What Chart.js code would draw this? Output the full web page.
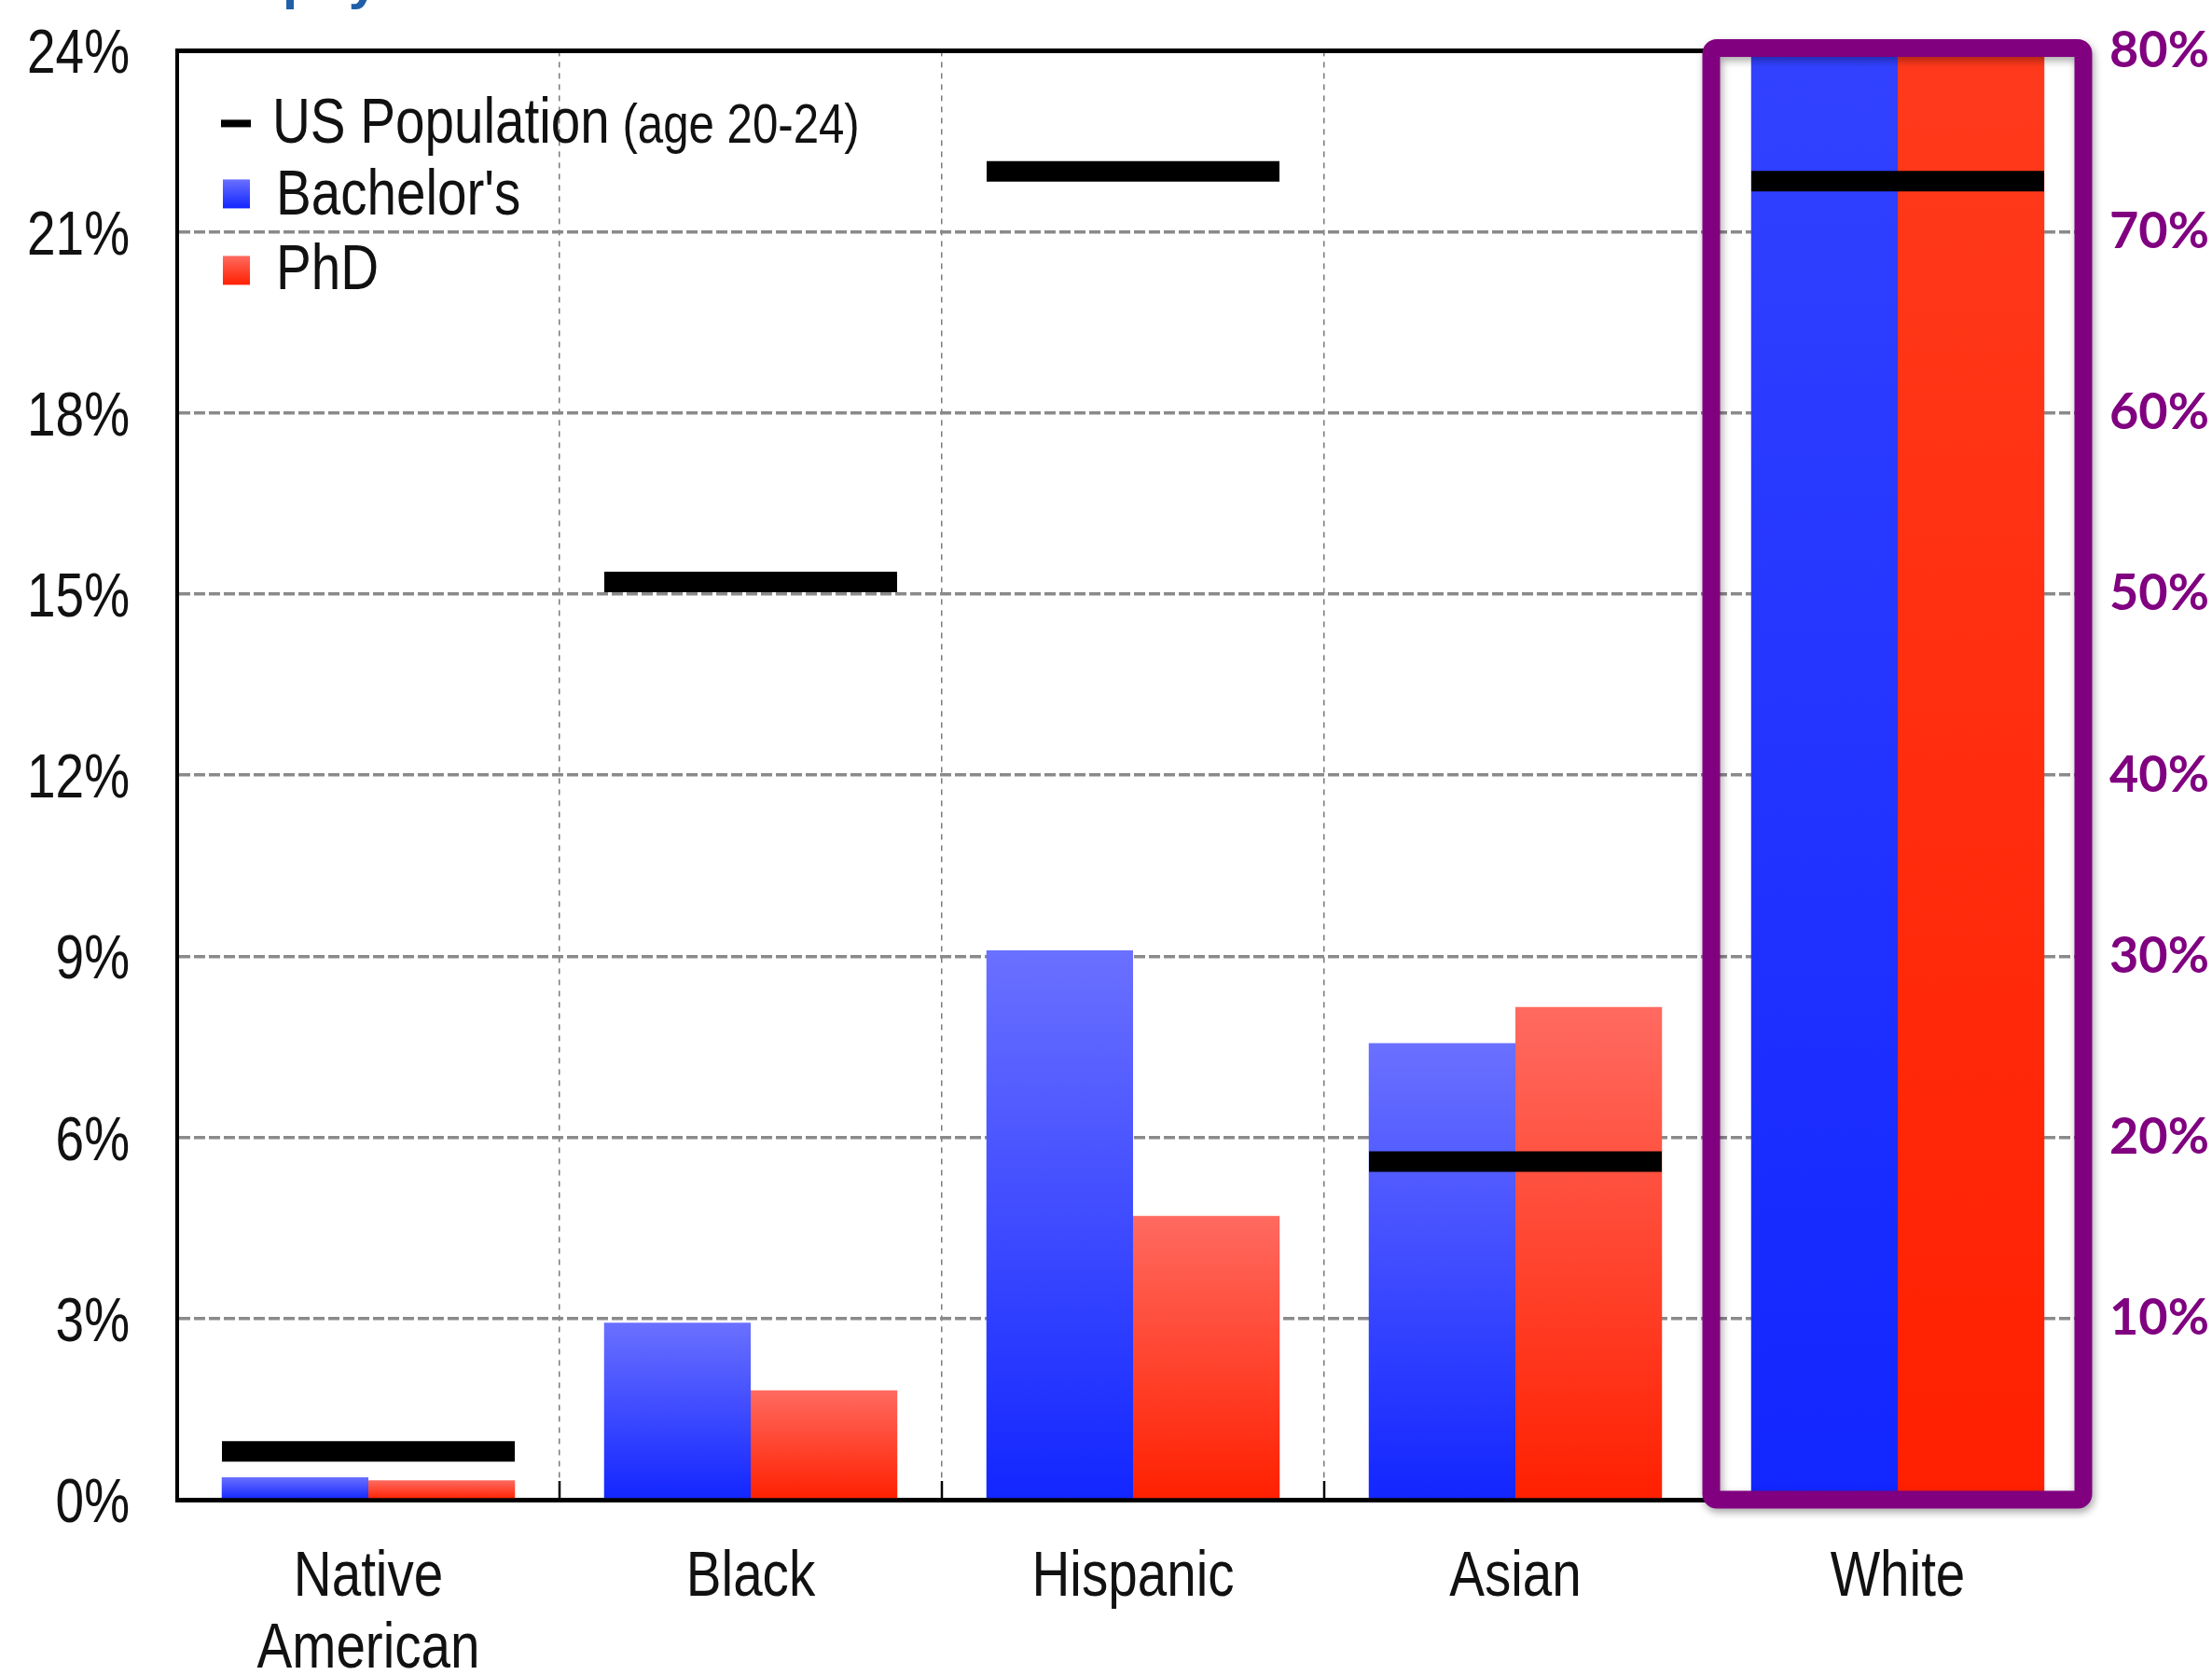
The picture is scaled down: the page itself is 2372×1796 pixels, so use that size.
<!DOCTYPE html>
<html>
<head>
<meta charset="utf-8">
<title>Physics degrees by race and ethnicity</title>
<script src="https://cdn.jsdelivr.net/npm/chart.js@4.4.1/dist/chart.umd.min.js"></script>
<style>
  html, body { margin: 0; padding: 0; background: #fff; }
  canvas { display: block; }
</style>
</head>
<body>
<canvas id="degreeChart" width="2372" height="1796"></canvas>
<script>
const categories = [['Native', 'American'], 'Black', 'Hispanic', 'Asian', 'White'];

// share of degrees / population in %, read on the left axis
const bachelors = [0.37, 2.93, 9.1, 7.56, null];
const phds = [0.32, 1.81, 4.7, 8.16, null];
const usPopulation = [0.8, 15.2, 22.0, 5.6, null];

// White is read on the right axis
const whiteBachelors = [null, null, null, null, 80];
const whitePhds = [null, null, null, null, 80];
const whitePopulation = [null, null, null, null, 72.8];

const leftTicks = [0, 3, 6, 9, 12, 15, 18, 21, 24];
const rightTicks = [10, 20, 30, 40, 50, 60, 70, 80];

const SANS = "'Liberation Sans', Arial, sans-serif";
const PURPLE = '#800080';
const TEXT = '#111';

// no narrow face is installed, so squeeze Liberation Sans horizontally
function narrowText(ctx, text, x, y, size, align) {
  ctx.save();
  ctx.font = size + 'px ' + SANS;
  ctx.textAlign = align || 'left';
  ctx.textBaseline = 'alphabetic';
  ctx.translate(x, y);
  ctx.scale(0.82, 1);
  ctx.fillText(text, 0, 0);
  const w = ctx.measureText(text).width * 0.82;
  ctx.restore();
  return w;
}

// vertical gradient running from the top of each bar down to its base
function barFill(top, bottom) {
  return function(c) {
    const chart = c.chart;
    if (c.type !== 'data' || !chart.chartArea || !c.parsed || c.parsed.y == null) return bottom;
    const scale = chart.scales[c.dataset.yAxisID];
    const y0 = scale.getPixelForValue(0);
    const y1 = Math.max(scale.getPixelForValue(c.parsed.y), chart.chartArea.top);
    if (!isFinite(y1) || y1 >= y0) return bottom;
    const g = chart.ctx.createLinearGradient(0, y1, 0, y0);
    g.addColorStop(0, top);
    g.addColorStop(1, bottom);
    return g;
  };
}

const popStyle = {
  type: 'line',
  showLine: false,
  pointStyle: 'line',
  pointRadius: 157,
  pointHoverRadius: 157,
  pointBorderWidth: 22,
  pointHoverBorderWidth: 22,
  pointBorderColor: '#000',
  pointBackgroundColor: '#000',
  order: 0
};

// tick labels, legend, top frame line, inner ticks and the box around White
const decorations = {
  id: 'decorations',
  afterDatasetsDraw(chart) {
    const { ctx, chartArea, scales } = chart;
    const x = scales.x;
    const step = x.getPixelForValue(1) - x.getPixelForValue(0);
    const boxLeft = x.getPixelForValue(4) - step / 2;

    ctx.save();
    // top frame
    ctx.strokeStyle = '#000';
    ctx.lineWidth = 5;
    ctx.beginPath();
    ctx.moveTo(chartArea.left, chartArea.top);
    ctx.lineTo(boxLeft, chartArea.top);
    ctx.stroke();

    // short ticks at category boundaries, pointing up
    ctx.lineWidth = 2.5;
    for (let i = 1; i < categories.length; i++) {
      const bx = chartArea.left + i * step;
      ctx.beginPath();
      ctx.moveTo(bx, chartArea.bottom);
      ctx.lineTo(bx, chartArea.bottom - 20);
      ctx.stroke();
    }

    // purple highlight box
    ctx.shadowColor = 'rgba(0,0,0,0.35)';
    ctx.shadowBlur = 8;
    ctx.shadowOffsetX = 2;
    ctx.shadowOffsetY = 4;
    ctx.strokeStyle = PURPLE;
    ctx.lineWidth = 19;
    ctx.lineJoin = 'round';
    ctx.beginPath();
    ctx.roundRect(boxLeft + 5, chartArea.top - 3, step - 11, chartArea.bottom - chartArea.top + 3, 6);
    ctx.stroke();
    ctx.restore();
  },
  afterDraw(chart) {
    const { ctx, chartArea, scales } = chart;
    ctx.save();
    ctx.fillStyle = TEXT;

    // left axis labels
    scales.y.ticks.forEach(t => {
      narrowText(ctx, t.value + '%', chartArea.left - 51, scales.y.getPixelForValue(t.value) + 24, 67, 'right');
    });

    // category labels, one or two lines
    categories.forEach((label, i) => {
      const lines = Array.isArray(label) ? label : [label];
      const cx = scales.x.getPixelForValue(i);
      lines.forEach((line, j) => {
        narrowText(ctx, line, cx, chartArea.bottom + 103 + j * 77, 69, 'center');
      });
    });

    // legend
    const lx = chartArea.left + 47;
    const ty = chartArea.top;
    ctx.strokeStyle = '#000';
    ctx.lineWidth = 8;
    ctx.beginPath();
    ctx.moveTo(lx, ty + 78);
    ctx.lineTo(lx + 32, ty + 78);
    ctx.stroke();
    const w = narrowText(ctx, 'US Population', lx + 55, ty + 99, 69);
    narrowText(ctx, ' (age 20-24)', lx + 55 + w, ty + 99, 60);

    const swatch = (y, top, bottom) => {
      const g = ctx.createLinearGradient(0, y, 0, y + 31);
      g.addColorStop(0, top);
      g.addColorStop(1, bottom);
      ctx.fillStyle = g;
      ctx.fillRect(lx + 2, y, 29, 31);
    };
    swatch(ty + 138, '#6a70ff', '#1226ff');
    swatch(ty + 220, '#ff6a60', '#ff2000');
    ctx.fillStyle = TEXT;
    narrowText(ctx, "Bachelor's", lx + 59, ty + 176, 69);
    narrowText(ctx, 'PhD', lx + 59, ty + 256, 69);

    // heading above the chart, mostly cut off by the top edge
    ctx.fillStyle = '#1f5fa8';
    ctx.font = 'bold 58px ' + SANS;
    ctx.textAlign = 'left';
    ctx.fillText('physics', 303, -2);
    ctx.restore();
  }
};

new Chart(document.getElementById('degreeChart'), {
  type: 'bar',
  data: {
    labels: categories,
    datasets: [
      Object.assign({ label: 'US Population (age 20-24)', data: usPopulation, yAxisID: 'y' }, popStyle),
      Object.assign({ label: 'US Population (age 20-24)', data: whitePopulation, yAxisID: 'y2' }, popStyle),
      { label: "Bachelor's", data: bachelors, yAxisID: 'y', backgroundColor: barFill('#6a70ff', '#1226ff'), order: 1 },
      { label: 'PhD', data: phds, yAxisID: 'y', backgroundColor: barFill('#ff6a60', '#ff2000'), order: 1 },
      { label: "Bachelor's", data: whiteBachelors, yAxisID: 'y2', backgroundColor: barFill('#3242ff', '#1226ff'), order: 1 },
      { label: 'PhD', data: whitePhds, yAxisID: 'y2', backgroundColor: barFill('#ff3a1c', '#ff2000'), order: 1 }
    ]
  },
  options: {
    responsive: false,
    animation: false,
    devicePixelRatio: 1,
    layout: { autoPadding: false, padding: { top: 50, left: 0, right: 0, bottom: 0 } },
    datasets: {
      bar: { skipNull: true, categoryPercentage: 0.767, barPercentage: 1.0, borderWidth: 0 }
    },
    plugins: {
      legend: { display: false },
      tooltip: { enabled: false }
    },
    scales: {
      x: {
        grid: { offset: true, color: '#7a7a7a', lineWidth: 1.5, drawTicks: false },
        border: { display: true, color: '#000', width: 5, dash: [6, 6] },
        ticks: { display: false, autoSkip: false },
        afterFit: s => { s.height = 188; }
      },
      y: {
        position: 'left',
        min: 0,
        max: 24,
        afterBuildTicks: a => { a.ticks = leftTicks.map(value => ({ value })); },
        grid: { color: '#8a8a8a', lineWidth: 3.5, drawTicks: false },
        border: { display: true, color: '#000', width: 4, dash: [12, 4] },
        ticks: { display: false },
        afterFit: s => { s.width = 190; }
      },
      y2: {
        position: 'right',
        min: 0,
        max: 80,
        afterBuildTicks: a => { a.ticks = rightTicks.map(value => ({ value })); },
        grid: { display: false, drawOnChartArea: false, drawTicks: false },
        border: { display: false },
        ticks: {
          callback: v => v + '%',
          color: PURPLE,
          font: { family: 'Lato', weight: 'bold', size: 54 },
          padding: 22
        },
        afterFit: s => { s.width = 132; }
      }
    }
  },
  plugins: [decorations]
});
</script>
</body>
</html>
